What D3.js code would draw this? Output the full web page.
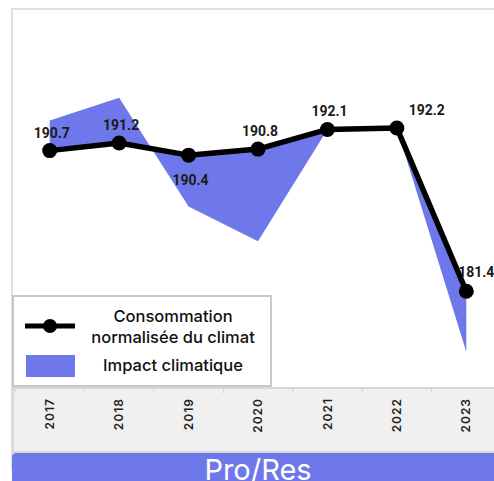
<!DOCTYPE html>
<html>
<head>
<meta charset="utf-8">
<script src="https://cdn.jsdelivr.net/npm/d3@7"></script>
<style>
  body { margin: 0; background: #fff; }
  svg { display: block; }
</style>
</head>
<body>
<div id="chart"></div>
<script>
var annees = ['2017', '2018', '2019', '2020', '2021', '2022', '2023'];
var consoNormalisee = [190.7, 191.2, 190.4, 190.8, 192.1, 192.2, 181.4];
var consoReelle = [192.7, 194.2, 187.0, 184.7, 192.1, 192.2, 177.4];

const width = 494;
const height = 481;
const bleu = '#6f78ea';

const svg = d3.select('#chart')
    .append('svg')
    .attr('width', width)
    .attr('height', height);

// cadre
svg.append('rect')
    .attr('x', 12).attr('y', 9)
    .attr('width', 500).attr('height', 460)
    .attr('fill', '#fff')
    .attr('stroke', '#e0e0e0')
    .attr('stroke-width', 2);

var x = d3.scaleBand()
    .domain(annees)
    .range([15, 501]);

var y = d3.scaleLinear()
    .domain([175, 200])
    .range([388, 10]);

var cx = function(i) { return x(annees[i]) + x.bandwidth() / 2; };

// zone impact climatique
var area = d3.area()
    .x(function(d, i) { return cx(i); })
    .y0(function(d, i) { return y(consoNormalisee[i]); })
    .y1(function(d) { return y(d); });

svg.append('path')
    .datum(consoReelle)
    .attr('d', area)
    .attr('fill', bleu);

// ligne
var line = d3.line()
    .x(function(d, i) { return cx(i); })
    .y(function(d) { return y(d); });

svg.append('path')
    .datum(consoNormalisee)
    .attr('d', line)
    .attr('fill', 'none')
    .attr('stroke', '#000')
    .attr('stroke-width', 5.5)
    .attr('stroke-linejoin', 'round');

svg.selectAll('circle.pt')
    .data(consoNormalisee)
    .enter()
    .append('circle')
    .attr('class', 'pt')
    .attr('cx', function(d, i) { return cx(i); })
    .attr('cy', function(d) { return y(d); })
    .attr('r', 7.5)
    .attr('fill', '#000');

// etiquettes (police etroite : on compresse un peu en largeur)
svg.selectAll('text.lbl')
    .data(consoNormalisee)
    .enter()
    .append('text')
    .attr('class', 'lbl')
    .attr('transform', function(d, i) {
        var tx = cx(i) + 2, ty = y(d) - 13;
        if (i == 2) ty = y(d) + 30;
        if (i == 5) tx = cx(i) + 30;
        if (i == 6) { tx = cx(i) + 10; ty = y(d) - 14; }
        return 'translate(' + tx + ',' + ty + ') scale(0.9,1)';
    })
    .attr('text-anchor', 'middle')
    .attr('font-family', 'Roboto, sans-serif')
    .attr('font-weight', 'bold')
    .attr('font-size', 15.5)
    .attr('fill', '#1a1a1a')
    .text(function(d) { return d.toFixed(1); });

// legende
var leg = svg.append('g');
leg.append('rect')
    .attr('x', 13).attr('y', 296)
    .attr('width', 258).attr('height', 90)
    .attr('fill', '#fff')
    .attr('stroke', '#c8c8c8')
    .attr('stroke-width', 2);
leg.append('line')
    .attr('x1', 25).attr('x2', 75)
    .attr('y1', 326).attr('y2', 326)
    .attr('stroke', '#000').attr('stroke-width', 5);
leg.append('circle')
    .attr('cx', 50).attr('cy', 326).attr('r', 7).attr('fill', '#000');
leg.append('rect')
    .attr('x', 26).attr('y', 355)
    .attr('width', 49).attr('height', 22)
    .attr('fill', bleu);
var legText = [['Consommation', 322], ['normalisée du climat', 343], ['Impact climatique', 371]];
leg.selectAll('text')
    .data(legText)
    .enter()
    .append('text')
    .attr('x', 173)
    .attr('y', function(d) { return d[1]; })
    .attr('text-anchor', 'middle')
    .attr('font-family', 'Inter, sans-serif')
    .attr('font-size', 16.5)
    .attr('font-weight', 500)
    .attr('fill', '#111')
    .text(function(d) { return d[0]; });

// bande axe
svg.append('rect')
    .attr('x', 13).attr('y', 388)
    .attr('width', 500).attr('height', 64)
    .attr('fill', '#f0f0f0')
    .attr('stroke', '#d8d8d8')
    .attr('stroke-width', 2);

svg.selectAll('line.tk')
    .data(annees)
    .enter()
    .append('line')
    .attr('class', 'tk')
    .attr('x1', function(d) { return x(d); })
    .attr('x2', function(d) { return x(d); })
    .attr('y1', 389).attr('y2', 393)
    .attr('stroke', '#d0d0d0')
    .attr('stroke-width', 1);

var axe = svg.append('g')
    .attr('transform', 'translate(0,398)')
    .call(d3.axisBottom(x).tickSize(0).tickPadding(0));
axe.select('.domain').remove();
axe.selectAll('.tick text')
    .attr('transform', 'rotate(-90)')
    .attr('x', 0)
    .attr('y', 0)
    .attr('dy', '0.35em')
    .attr('text-anchor', 'end')
    .attr('font-family', 'Inter, sans-serif')
    .attr('font-weight', 600)
    .attr('font-size', 12)
    .attr('letter-spacing', 1)
    .attr('fill', '#222');

// bandeau
svg.append('rect')
    .attr('x', 12).attr('y', 453)
    .attr('width', 500).attr('height', 40)
    .attr('rx', 4)
    .attr('fill', bleu);
svg.append('text')
    .attr('x', 258).attr('y', 480)
    .attr('text-anchor', 'middle')
    .attr('font-family', 'Inter, sans-serif')
    .attr('font-size', 29)
    .attr('fill', '#fff')
    .text('Pro/Res');
</script>
</body>
</html>
